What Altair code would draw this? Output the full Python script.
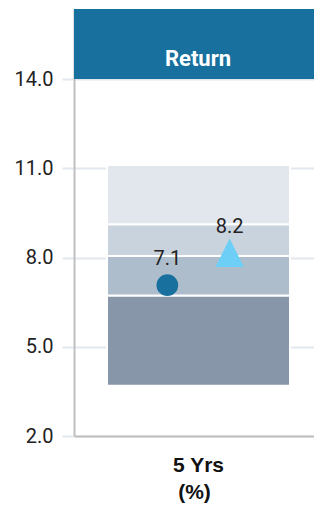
import altair as alt
import pandas as pd

period = ["5 Yrs"]
band_names = ["Q4", "Q3", "Q2", "Q1"]
band_low = [3.69, 6.72, 8.05, 9.12]
band_high = [6.72, 8.05, 9.12, 11.11]
band_colors = ["#8796a8", "#aebdcc", "#c9d3de", "#e2e7ee"]
series = ["Fund", "Benchmark"]
series_values = [7.07, 8.16]
series_colors = ["#17709e", "#6dcff6"]
series_shapes = ["circle", "M0,-1L1,1L-1,1Z"]
series_sizes = [470, 820]
y_ticks = [2, 5, 8, 11, 14]
header_text = ["Return"]
unit_text = "(%)"

W, H = 240, 427
Y_MIN, Y_MAX = 2, 16.353
GRID = "#e3e8ee"

bands = pd.DataFrame({"period": period * 4, "band": band_names,
                      "low": band_low, "high": band_high})
pts = pd.DataFrame({"period": period * 2, "series": series, "value": series_values})
hdr = pd.DataFrame({"label": header_text})


def x_scale():
    return alt.Scale(type="band", paddingInner=0, paddingOuter=0.1557, align=0.579)


x_enc = alt.X(
    "period:N",
    scale=x_scale(),
    axis=alt.Axis(
        title=unit_text, labelAngle=0, ticks=False, grid=False,
        domainColor="#bfbfbf", domainWidth=2,
        labelFont="Liberation Sans", labelFontSize=21, labelFontWeight="bold",
        labelColor="#111", labelPadding=18,
        titleFont="Liberation Sans", titleFontSize=21, titleFontWeight="bold",
        titleColor="#111", titlePadding=6,
    ),
)
y_scale = alt.Scale(domain=[Y_MIN, Y_MAX], nice=False, zero=False)

bars = alt.Chart(bands).mark_bar(stroke="white", strokeWidth=2, width=alt.RelativeBandSize(band=1)).encode(
    x=x_enc,
    y=alt.Y("low:Q", scale=y_scale, axis=alt.Axis(
        values=y_ticks, format=".1f", title=None,
        grid=True, gridColor=GRID, gridWidth=2,
        tickSize=12, tickColor=GRID, tickWidth=2,
        domainColor="#bfbfbf", domainWidth=2,
        labelFont="Roboto", labelFontSize=20, labelColor="#222", labelPadding=9,
    )),
    y2="high:Q",
    color=alt.Color("band:N", scale=alt.Scale(domain=band_names, range=band_colors), legend=None),
)

xoff = alt.XOffset("series:N", scale=alt.Scale(type="band", domain=series, paddingInner=0, paddingOuter=0.468))

points = alt.Chart(pts).mark_point(filled=True, opacity=1).encode(
    x=alt.X("period:N", scale=x_scale()),
    xOffset=xoff,
    y=alt.Y("value:Q", scale=y_scale),
    shape=alt.Shape("series:N", scale=alt.Scale(domain=series, range=series_shapes), legend=None),
    size=alt.Size("series:O", scale=alt.Scale(domain=series, range=series_sizes), legend=None),
    color=alt.Color("series:N", scale=alt.Scale(domain=series, range=series_colors), legend=None),
)

labels = alt.Chart(pts).mark_text(
    font="Roboto", fontSize=20, color="#222", baseline="middle", dy=-26
).encode(
    x=alt.X("period:N", scale=x_scale()),
    xOffset=xoff,
    y=alt.Y("value:Q", scale=y_scale),
    text=alt.Text("value:Q", format=".1f"),
)

header = alt.Chart(hdr).mark_rect(color="#17709e").encode(
    x=alt.value(0), x2=alt.value(W),
    y=alt.datum(14), y2=alt.value(0),
)
header_label = alt.Chart(hdr).mark_text(
    font="Roboto", fontSize=22, fontWeight="bold", color="white", baseline="middle"
).encode(
    x=alt.value(124), y=alt.value(50), text="label:N",
)

chart = alt.layer(bars, points, labels, header, header_label).resolve_scale(
    color="independent"
).properties(
    width=W, height=H,
    autosize=alt.AutoSizeParams(type="none"),
    padding={"left": 66, "top": 1, "right": 0, "bottom": 68},
).configure_view(strokeWidth=0)

chart.save("out.html", embed_options={"renderer": "svg", "actions": False})
